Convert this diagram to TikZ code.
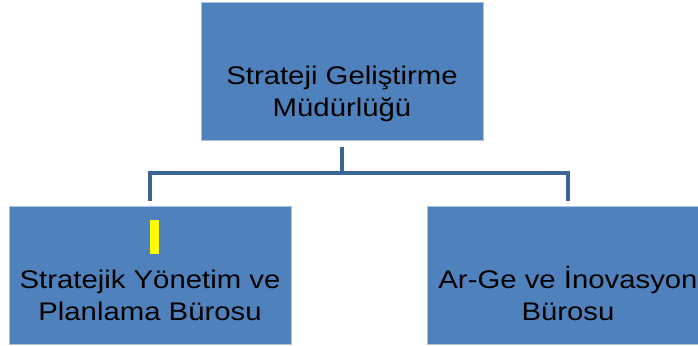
\documentclass[tikz,border=0pt]{standalone}
\usepackage{fontspec}
\setmainfont{Liberation Sans}[FakeStretch=1.15]
\definecolor{boxblue}{RGB}{79,129,189}
\definecolor{boxedge}{RGB}{170,195,225}
\definecolor{connblue}{RGB}{60,100,150}
\definecolor{hlyellow}{RGB}{255,255,0}
\begin{document}
\begin{tikzpicture}[x=1pt,y=-1pt,
  box/.style={draw=boxedge, line width=0.8pt, fill=boxblue, minimum width=282pt, minimum height=138pt, inner sep=0pt},
  lbl/.style={align=center, anchor=base, inner sep=0pt, font=\fontsize{25.5}{32}\selectfont, text=black},
  conn/.style={draw=connblue, line width=4pt}]
\clip (0,0) rectangle (698,345);
\node[box] (top) at (342,71) {};
\node[box] (left) at (150,275) {};
\node[box] (right) at (568,275) {};
\node[fill=hlyellow, minimum width=9pt, minimum height=34pt, inner sep=0pt] (hl) at (154.5,237) {};
\node[lbl] (toptxt) at (342,116) {Strateji Geliştirme\\Müdürlüğü};
\node[lbl] (lefttxt) at (150,320) {Stratejik Yönetim ve\\Planlama Bürosu};
\node[lbl] (righttxt) at (568,320) {Ar-Ge ve İnovasyon\\Bürosu};
\draw[conn, shorten <=7pt, shorten >=5pt] (top.south) -- ++(0,33) -| (left.north);
\draw[conn, shorten <=7pt, shorten >=5pt] (top.south) -- ++(0,33) -| (right.north);
\end{tikzpicture}
\end{document}
